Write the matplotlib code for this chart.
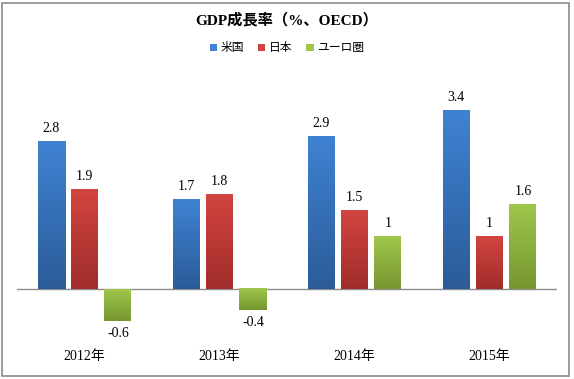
import matplotlib
matplotlib.use("Agg")
import matplotlib.pyplot as plt
import numpy as np
from matplotlib.patches import Rectangle
from matplotlib.colors import LinearSegmentedColormap

years = ["2012年", "2013年", "2014年", "2015年"]
series = ["米国", "日本", "ユーロ圏"]
us = [2.8, 1.7, 2.9, 3.4]
japan = [1.9, 1.8, 1.5, 1.0]
euro = [-0.6, -0.4, 1.0, 1.6]
labels_us = ["2.8", "1.7", "2.9", "3.4"]
labels_jp = ["1.9", "1.8", "1.5", "1"]
labels_eu = ["-0.6", "-0.4", "1", "1.6"]

# gradient colors (top, bottom)
colors = [("#3f82d2", "#2b5c99"), ("#d24440", "#a02d2b"), ("#a0c64c", "#76972f")]

W, H = 574, 379
fig = plt.figure(figsize=(W / 100, H / 100), dpi=100)
fig.patches.append(Rectangle((2 / W, 3 / H), 567 / W, 373 / H, transform=fig.transFigure,
                             fill=False, edgecolor="#8a8a8a", linewidth=1.2))

# axes placed in pixels: x 17..557, y 90..340 (top-down)
ax = fig.add_axes([17 / W, (H - 340) / H, 540 / W, 250 / H])
ax.set_xlim(-0.5, 3.5)
ax.set_ylim(-0.97, 3.78)
for s in ax.spines.values():
    s.set_visible(False)
ax.set_xticks([])
ax.set_yticks([])
ax.axhline(0, color="#8c8c8c", linewidth=1.0, zorder=1)

x = np.arange(len(years))
width = 0.2
offsets = [-0.248, 0, 0.248]
all_vals = [us, japan, euro]
all_labels = [labels_us, labels_jp, labels_eu]
handles = []
lbl_font = ["Liberation Serif", "Noto Sans CJK JP"]
for i in range(3):
    cmap = LinearSegmentedColormap.from_list("g%d" % i, [colors[i][1], colors[i][0]])
    bars = ax.bar(x + offsets[i], all_vals[i], width, color=colors[i][0], zorder=2,
                  label=series[i], linewidth=0)
    handles.append(bars[0])
    for b, v, t in zip(bars, all_vals[i], all_labels[i]):
        x0 = b.get_x()
        y0, y1 = sorted([0, v])
        grad = np.linspace(0, 1, 64).reshape(-1, 1)
        ax.imshow(grad, cmap=cmap, aspect="auto", origin="lower",
                  extent=[x0, x0 + width, y0, y1], zorder=2.5)
        if v >= 0:
            ax.text(b.get_x() + width / 2, v + 0.12, t, ha="center", va="bottom",
                    fontsize=10, family=lbl_font)
        else:
            ax.text(b.get_x() + width / 2, v - 0.12, t, ha="center", va="top",
                    fontsize=10, family=lbl_font)
ax.set_xlim(-0.5, 3.5)
ax.set_ylim(-0.97, 3.78)

for xi, yr in zip(x, years):
    ax.text(xi, -1.28, yr, ha="center", va="center", fontsize=10, family=lbl_font,
            clip_on=False)

fig.text(0.5, 1 - 20 / H, "GDP成長率（%、OECD）", ha="center", va="center",
         fontsize=11, fontweight="bold", family=["Liberation Serif", "Noto Sans CJK JP"])

leg = fig.legend(handles, series, loc="center", bbox_to_anchor=(287 / W, 1 - 48 / H),
                 ncol=3, frameon=False, handlelength=0.6, handleheight=0.6,
                 handletextpad=0.3, columnspacing=1.2,
                 prop={"family": ["Noto Sans CJK JP"], "size": 8.5})

fig.savefig("out.png", dpi=100)
